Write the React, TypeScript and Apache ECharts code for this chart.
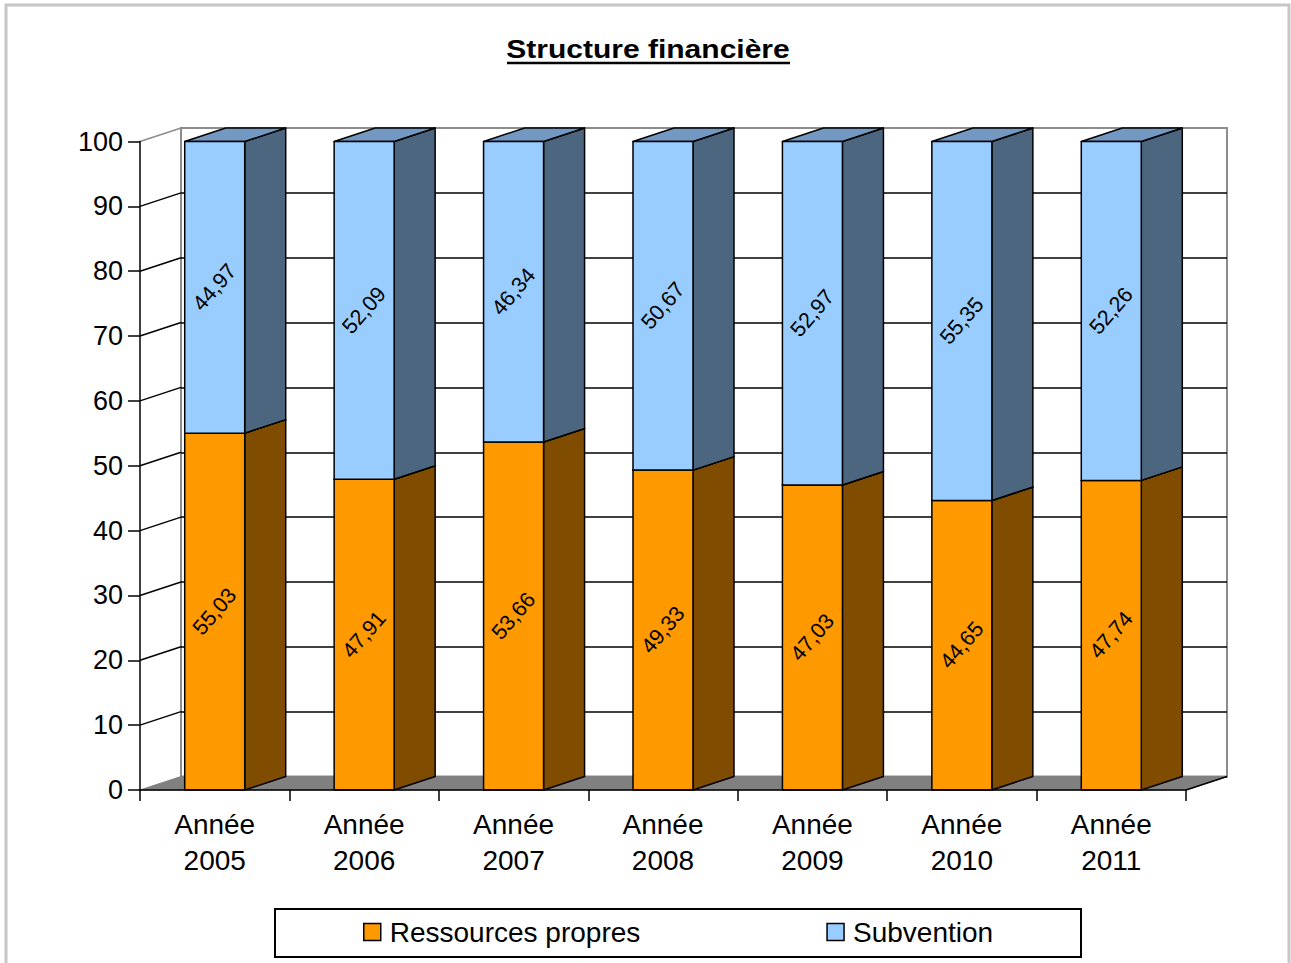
import React, { useEffect, useRef } from "react";
import * as echarts from "echarts";

const categories = [
  "Année\n2005",
  "Année\n2006",
  "Année\n2007",
  "Année\n2008",
  "Année\n2009",
  "Année\n2010",
  "Année\n2011",
];
const ressourcesPropres = [55.03, 47.91, 53.66, 49.33, 47.03, 44.65, 47.74];
const subvention = [44.97, 52.09, 46.34, 50.67, 52.97, 55.35, 52.26];
const yTicks = [0, 10, 20, 30, 40, 50, 60, 70, 80, 90, 100];
const seriesNames = ["Ressources propres", "Subvention"];
const titleText = "Structure financière";

const DX = 41;
const DY = -13.5;
const BAR_W = 60;
const FONT = '"Liberation Sans", Arial, Helvetica, sans-serif';

const fmt = (v: number) => v.toFixed(2).replace(".", ",");

function barRenderer(front: string, side: string, top: string) {
  return (params: any, api: any) => {
    const idx = api.value(0);
    const start = api.value(1);
    const end = api.value(2);
    const val = api.value(3);
    const p0 = api.coord([idx, start]);
    const p1 = api.coord([idx, end]);
    const cx = p0[0];
    const x0 = cx - BAR_W / 2;
    const x1 = cx + BAR_W / 2;
    const yb = p0[1];
    const yt = p1[1];
    const stroke = { stroke: "#000", lineWidth: 1.5, lineJoin: "round" };
    return {
      type: "group",
      children: [
        {
          type: "polygon",
          shape: { points: [[x1, yb], [x1 + DX, yb + DY], [x1 + DX, yt + DY], [x1, yt]] },
          style: { fill: side, ...stroke },
        },
        {
          type: "polygon",
          shape: { points: [[x0, yt], [x1, yt], [x1 + DX, yt + DY], [x0 + DX, yt + DY]] },
          style: { fill: top, ...stroke },
        },
        {
          type: "rect",
          shape: { x: x0, y: yt, width: BAR_W, height: yb - yt },
          style: { fill: front, ...stroke },
        },
        {
          type: "text",
          x: cx,
          y: (yb + yt) / 2,
          rotation: (49 * Math.PI) / 180,
          style: {
            text: fmt(val),
            fill: "#000",
            fontSize: 21.5,
            fontFamily: FONT,
            align: "center",
            verticalAlign: "middle",
          },
        },
      ],
    };
  };
}

export default function App() {
  const ref = useRef<HTMLDivElement>(null);
  useEffect(() => {
    if (!ref.current) return;
    const chart = echarts.init(ref.current, undefined, { renderer: "svg" });
    const splitColors = yTicks.map((v) => (v === 100 ? "#8c8c8c" : "#000"));
    const option: any = {
      animation: false,
      backgroundColor: "#fff",
      textStyle: { fontFamily: FONT, color: "#000" },
      graphic: [
        {
          type: "rect",
          shape: { x: 6, y: 5, width: 1283, height: 962 },
          style: { fill: "none", stroke: "#c6c6c6", lineWidth: 3 },
          z: 100,
        },
        {
          type: "text",
          x: 648,
          y: 49,
          scaleX: 1.2,
          style: {
            text: titleText,
            fill: "#000",
            fontSize: 25,
            fontWeight: "bold",
            fontFamily: FONT,
            align: "center",
            verticalAlign: "middle",
          },
        },
        {
          type: "line",
          shape: { x1: 507, y1: 63, x2: 790, y2: 63 },
          style: { stroke: "#000", lineWidth: 2.5 },
        },
        {
          type: "rect",
          shape: { x: 275, y: 909, width: 806, height: 48 },
          style: { fill: "none", stroke: "#000", lineWidth: 2 },
        },
      ],
      legend: {
        data: [
          { name: seriesNames[0], icon: "rect", itemStyle: { color: "#FF9900", borderColor: "#000", borderWidth: 1.5 } },
          { name: seriesNames[1], icon: "rect", itemStyle: { color: "#99CCFF", borderColor: "#000", borderWidth: 1.5 } },
        ],
        left: 363,
        top: 918,
        padding: 0,
        itemWidth: 17,
        itemHeight: 17,
        itemGap: 186,
        selectedMode: false,
        textStyle: { fontSize: 28, fontFamily: FONT, color: "#000", padding: [0, 0, 0, 4] },
      },
      grid: [
        { left: 140, right: 105, top: 141.5, bottom: 173, containLabel: false },
        {
          left: 140 + DX,
          right: 105 - DX,
          top: 141.5 + DY,
          bottom: 173 - DY,
          show: true,
          borderColor: "#8c8c8c",
          borderWidth: 2,
          backgroundColor: "transparent",
        },
      ],
      xAxis: [
        {
          type: "category",
          gridIndex: 0,
          data: categories,
          boundaryGap: true,
          axisLine: { show: true, lineStyle: { color: "#000", width: 1.5 } },
          axisTick: { show: true, length: 11, lineStyle: { color: "#000", width: 1.5 } },
          axisLabel: { fontSize: 28, lineHeight: 36, margin: 16, color: "#000", fontFamily: FONT, interval: 0 },
          splitLine: { show: false },
          z: 5,
        },
        {
          type: "value",
          gridIndex: 1,
          min: 0,
          max: 1,
          show: false,
        },
      ],
      yAxis: [
        {
          type: "value",
          gridIndex: 0,
          min: 0,
          max: 100,
          interval: 10,
          axisLine: { show: true, lineStyle: { color: "#000", width: 1.5 } },
          axisTick: { show: true, length: 12, lineStyle: { color: "#000", width: 1.5 } },
          axisLabel: { fontSize: 27, margin: 17, color: "#000", fontFamily: FONT },
          splitLine: { show: false },
          z: 5,
        },
        {
          type: "value",
          gridIndex: 1,
          min: 0,
          max: 100,
          interval: 10,
          axisLine: { show: false },
          axisTick: { show: false },
          axisLabel: { show: false },
          splitLine: { show: true, lineStyle: { color: splitColors, width: 1.5 } },
        },
      ],
      series: [
        {
          type: "custom",
          name: "wallLines",
          xAxisIndex: 0,
          yAxisIndex: 0,
          z: 1,
          silent: true,
          data: yTicks.filter((v) => v > 0).map((v) => [0, v]),
          renderItem: (params: any, api: any) => {
            const cs = params.coordSys;
            const v = api.value(1);
            const y = api.coord([0, v])[1];
            return {
              type: "line",
              shape: { x1: cs.x, y1: y, x2: cs.x + DX, y2: y + DY },
              style: { stroke: v === 100 ? "#8c8c8c" : "#000", lineWidth: 1.5 },
            };
          },
        },
        {
          type: "custom",
          name: "floor",
          xAxisIndex: 0,
          yAxisIndex: 0,
          z: 1,
          silent: true,
          data: [[0, 0]],
          renderItem: (params: any, api: any) => {
            const cs = params.coordSys;
            const y0 = api.coord([0, 0])[1];
            const x0 = cs.x;
            const x1 = cs.x + cs.width;
            return {
              type: "group",
              children: [
                {
                  type: "polygon",
                  shape: { points: [[x0, y0], [x0 + DX, y0 + DY], [x1 + DX, y0 + DY], [x1, y0]] },
                  style: { fill: "#808080", stroke: "#808080", lineWidth: 1 },
                },
                {
                  type: "line",
                  shape: { x1: x1, y1: y0, x2: x1 + DX, y2: y0 + DY },
                  style: { stroke: "#000", lineWidth: 1.5 },
                },
              ],
            };
          },
        },
        {
          type: "custom",
          name: seriesNames[0],
          xAxisIndex: 0,
          yAxisIndex: 0,
          z: 3,
          itemStyle: { color: "#FF9900" },
          encode: { x: 0, y: [1, 2] },
          data: ressourcesPropres.map((v, i) => [i, 0, v, v]),
          renderItem: barRenderer("#FF9900", "#7F4C00", "#BF7300"),
        },
        {
          type: "custom",
          name: seriesNames[1],
          xAxisIndex: 0,
          yAxisIndex: 0,
          z: 3,
          itemStyle: { color: "#99CCFF" },
          encode: { x: 0, y: [1, 2] },
          data: subvention.map((v, i) => [i, ressourcesPropres[i], ressourcesPropres[i] + v, v]),
          renderItem: barRenderer("#99CCFF", "#4D6680", "#7399C2"),
        },
      ],
    };
    chart.setOption(option);
    return () => chart.dispose();
  }, []);
  return (
    <div
      ref={ref}
      style={{ position: "absolute", left: 0, top: 0, width: 1291, height: 963 }}
    />
  );
}
